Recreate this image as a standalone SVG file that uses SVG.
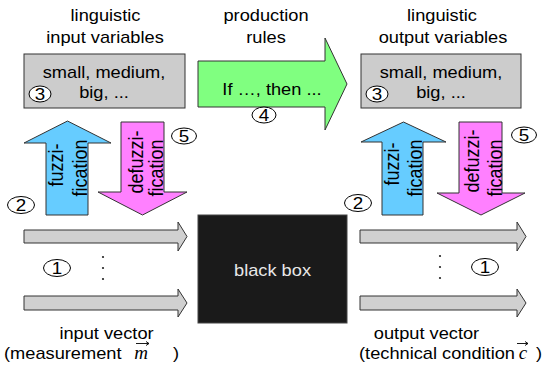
<svg xmlns="http://www.w3.org/2000/svg" width="542" height="370" viewBox="0 0 542 370">
  <style>
    text { font-family: "Liberation Sans", Arial, sans-serif; fill: #000; }
    .lbl { font-size: 16px; text-anchor: middle; }
    .rot { font-size: 18px; text-anchor: middle; }
    .num { font-size: 16.5px; text-anchor: middle; }
    .var { font-family: "Liberation Serif", "Times New Roman", serif; font-style: italic; font-size: 19px; text-anchor: middle; }
    .box { fill: #cccccc; stroke: #333; stroke-width: 1; }
    .bar { fill: #d0d0d0; stroke: #333; stroke-width: 1; }
    .up { fill: #66ccff; stroke: #333; stroke-width: 1; }
    .down { fill: #ff80ff; stroke: #333; stroke-width: 1; }
    .rule { fill: #80ff80; stroke: #333; stroke-width: 1; }
    .mark { fill: #fff; stroke: #000; stroke-width: 1; }
    .vec { fill: none; stroke: #000; stroke-width: 0.9; }
    .dot { fill: #222; }
  </style>

  <!-- signal arrows: input vector into the black box, output vector out of it -->
  <g id="connectors">
    <polygon class="bar" points="24,230 178,230 178,222 187,236.5 178,251 178,243 24,243"/>
    <polygon class="bar" points="24,296 178,296 178,289 187,303 178,317 178,310 24,310"/>
    <polygon class="bar" points="360,230 517,230 517,222 526,236.5 517,251 517,243 360,243"/>
    <polygon class="bar" points="360,296 517,296 517,289 526,303 517,317 517,310 360,310"/>
  </g>

  <!-- linguistic input variables -->
  <g id="input-variables">
    <text class="lbl" transform="translate(105.5 21) scale(1.14 1)">linguistic</text>
    <text class="lbl" transform="translate(105 43) scale(1.14 1)">input variables</text>
    <rect class="box" x="24" y="54" width="161" height="54"/>
    <text class="lbl" transform="translate(104 77.5) scale(1.14 1)">small, medium,</text>
    <text class="lbl" transform="translate(104 97.5) scale(1.14 1)">big, ...</text>
    <ellipse class="mark" cx="40" cy="94" rx="11" ry="8"/>
    <text class="num" transform="translate(40 100) scale(1.14 1)">3</text>
  </g>

  <!-- production rules -->
  <g id="production-rules">
    <text class="lbl" transform="translate(266 21) scale(1.14 1)">production</text>
    <text class="lbl" transform="translate(266 43) scale(1.14 1)">rules</text>
    <polygon class="rule" points="198,61 325,61 325,38 347,84 325,130 325,107 198,107"/>
    <text class="lbl" transform="translate(272 95) scale(1.14 1)">If …, then ...</text>
    <ellipse class="mark" cx="264" cy="115" rx="12" ry="8"/>
    <text class="num" transform="translate(264 121) scale(1.14 1)">4</text>
  </g>

  <!-- linguistic output variables -->
  <g id="output-variables">
    <text class="lbl" transform="translate(442 21) scale(1.14 1)">linguistic</text>
    <text class="lbl" transform="translate(443 43) scale(1.14 1)">output variables</text>
    <rect class="box" x="361" y="54" width="160" height="54"/>
    <text class="lbl" transform="translate(441 77.5) scale(1.14 1)">small, medium,</text>
    <text class="lbl" transform="translate(441 97.5) scale(1.14 1)">big, ...</text>
    <ellipse class="mark" cx="377" cy="94" rx="11" ry="8"/>
    <text class="num" transform="translate(377 100) scale(1.14 1)">3</text>
  </g>

  <!-- fuzzification / defuzzification, input side -->
  <g id="fuzzification-in">
    <polygon class="up" points="46,215 46,143 24,143 67.5,121 111,143 88,143 88,215"/>
    <text class="rot" transform="translate(63 165) rotate(-90) scale(1 1.12)">fuzzi-</text>
    <text class="rot" transform="translate(86.5 168) rotate(-90) scale(1 1.12)">fication</text>
  </g>
  <g id="defuzzification-in">
    <polygon class="down" points="121,122 164,122 164,192 187,192 142.5,215 98,192 121,192"/>
    <text class="rot" transform="translate(142.5 162) rotate(-90) scale(1 1.12)">defuzzi-</text>
    <text class="rot" transform="translate(163 168) rotate(-90) scale(1 1.12)">fication</text>
  </g>

  <!-- fuzzification / defuzzification, output side -->
  <g id="fuzzification-out">
    <polygon class="up" points="382,215 382,142 361,142 403.5,122 446,142 423,142 423,215"/>
    <text class="rot" transform="translate(399 164) rotate(-90) scale(1 1.12)">fuzzi-</text>
    <text class="rot" transform="translate(422 168) rotate(-90) scale(1 1.12)">fication</text>
  </g>
  <g id="defuzzification-out">
    <polygon class="down" points="459,122 502,122 502,193 525,193 481,215 437,193 459,193"/>
    <text class="rot" transform="translate(479 161) rotate(-90) scale(1 1.12)">defuzzi-</text>
    <text class="rot" transform="translate(502 168) rotate(-90) scale(1 1.12)">fication</text>
  </g>

  <!-- step markers -->
  <g id="marker-5-in">
    <ellipse class="mark" cx="184" cy="136" rx="12.5" ry="8"/>
    <text class="num" transform="translate(184 142) scale(1.14 1)">5</text>
  </g>
  <g id="marker-5-out">
    <ellipse class="mark" cx="524" cy="135" rx="12.5" ry="8"/>
    <text class="num" transform="translate(524 141) scale(1.14 1)">5</text>
  </g>
  <g id="marker-2-in">
    <ellipse class="mark" cx="21" cy="205" rx="13.5" ry="8.5"/>
    <text class="num" transform="translate(21 211) scale(1.14 1)">2</text>
  </g>
  <g id="marker-2-out">
    <ellipse class="mark" cx="358" cy="203" rx="13.5" ry="8.5"/>
    <text class="num" transform="translate(358 209) scale(1.14 1)">2</text>
  </g>
  <g id="marker-1-in">
    <ellipse class="mark" cx="57" cy="268" rx="13.5" ry="8.5"/>
    <text class="num" transform="translate(57 274) scale(1.14 1)">1</text>
  </g>
  <g id="marker-1-out">
    <ellipse class="mark" cx="485" cy="267" rx="13.5" ry="8.5"/>
    <text class="num" transform="translate(485 273) scale(1.14 1)">1</text>
  </g>

  <!-- vertical ellipsis between the vector components -->
  <g id="ellipsis-in">
    <circle class="dot" cx="103" cy="257" r="1.1"/>
    <circle class="dot" cx="103" cy="268" r="1.1"/>
    <circle class="dot" cx="103" cy="279" r="1.1"/>
  </g>
  <g id="ellipsis-out">
    <circle class="dot" cx="440" cy="256" r="1.1"/>
    <circle class="dot" cx="440" cy="267" r="1.1"/>
    <circle class="dot" cx="440" cy="278" r="1.1"/>
  </g>

  <!-- black box -->
  <g id="black-box">
    <rect x="198" y="215" width="149" height="108" fill="#1a1a1a" stroke="#444" stroke-width="1"/>
    <text class="lbl" transform="translate(272.5 276) scale(1.14 1)" style="fill:#e8e8e8">black box</text>
  </g>

  <!-- input vector -->
  <g id="input-vector">
    <text class="lbl" transform="translate(106.5 339) scale(1.14 1)">input vector</text>
    <text class="lbl" transform="translate(4 359) scale(1.14 1)" style="text-anchor:start">(measurement</text>
    <text class="var" x="141" y="359">m</text>
    <text class="lbl" transform="translate(173 359) scale(1.14 1)" style="text-anchor:start">)</text>
    <path class="vec" d="M136,343.5 H149 M146,341.5 L149,343.5 L146,345.5"/>
  </g>

  <!-- output vector -->
  <g id="output-vector">
    <text class="lbl" transform="translate(426.5 339) scale(1.14 1)">output vector</text>
    <text class="lbl" transform="translate(359 359) scale(1.14 1)" style="text-anchor:start">(technical condition</text>
    <text class="var" x="523" y="359">c</text>
    <text class="lbl" transform="translate(536 359) scale(1.14 1)" style="text-anchor:start">)</text>
    <path class="vec" d="M517,343.5 H528 M525,341.5 L528,343.5 L525,345.5"/>
  </g>
</svg>
